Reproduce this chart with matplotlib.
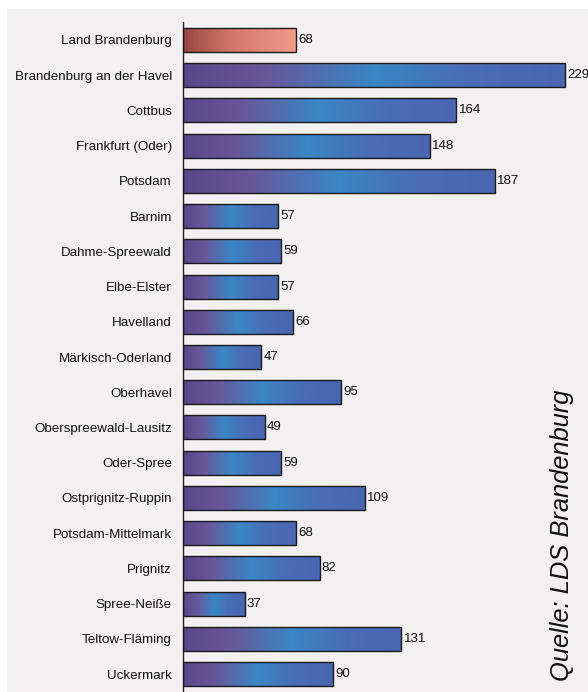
import matplotlib
matplotlib.use("Agg")
import matplotlib.pyplot as plt
import numpy as np
from matplotlib.colors import LinearSegmentedColormap
from matplotlib.patches import Rectangle

plt.rcParams["font.family"] = ["Liberation Sans", "DejaVu Sans"]

names = ["Land Brandenburg", "Brandenburg an der Havel", "Cottbus", "Frankfurt (Oder)",
         "Potsdam", "Barnim", "Dahme-Spreewald", "Elbe-Elster", "Havelland",
         "Märkisch-Oderland", "Oberhavel", "Oberspreewald-Lausitz", "Oder-Spree",
         "Ostprignitz-Ruppin", "Potsdam-Mittelmark", "Prignitz", "Spree-Neiße",
         "Teltow-Fläming", "Uckermark"]
values = [68, 229, 164, 148, 187, 57, 59, 57, 66, 47, 95, 49, 59, 109, 68, 82, 37, 131, 90]

blue_cmap = LinearSegmentedColormap.from_list(
    "bl", [(0, "#574889"), (0.22, "#68589a"), (0.5, "#3a86c6"), (0.75, "#4a6cb6"), (1, "#4a66b2")])
red_cmap = LinearSegmentedColormap.from_list(
    "rd", [(0, "#974644"), (0.4, "#d07566"), (1, "#f29c8a")])

fig = plt.figure(figsize=(5.88, 6.92), dpi=100)
fig.patch.set_facecolor("white")
# grey panel behind everything
fig.add_artist(Rectangle((7 / 588, 0), 1, (692 - 9) / 692, transform=fig.transFigure,
                         facecolor="#f2f0f1", edgecolor="none", zorder=-10))

ax = fig.add_axes([183 / 588, 0, 405 / 588, (692 - 22) / 692])
ax.set_facecolor("none")

bar_h = 0.68
grad = np.linspace(0, 1, 256).reshape(1, -1)
for i, (n, v) in enumerate(zip(names, values)):
    cmap = red_cmap if i == 0 else blue_cmap
    ax.imshow(grad, cmap=cmap, aspect="auto", interpolation="bilinear",
              extent=(0, v, i + bar_h / 2, i - bar_h / 2), zorder=2)
    ax.add_patch(Rectangle((0, i - bar_h / 2), v, bar_h, facecolor="none",
                           edgecolor="#1a1a1a", linewidth=1.0, zorder=3))
    ax.text(v + 1.3, i, str(v), va="center", ha="left", fontsize=9.5, color="#111111",
            clip_on=False)

ax.set_xlim(0, 243)
ax.set_ylim(len(names) - 0.49, -0.51)
ax.set_yticks(range(len(names)))
ax.set_yticklabels(names, fontsize=9.6, color="#111111")
ax.tick_params(axis="y", length=0, pad=8)
ax.set_xticks([])
ax.spines[["top", "right", "bottom"]].set_visible(False)
ax.spines["left"].set_color("#222222")
ax.spines["left"].set_linewidth(1.0)

fig.text(562 / 588, 1 - 535 / 692, "Quelle: LDS Brandenburg", rotation=90,
         style="italic", fontsize=18.4, ha="center", va="center", color="#111111")

fig.savefig("out.png", dpi=100, facecolor=fig.get_facecolor())
